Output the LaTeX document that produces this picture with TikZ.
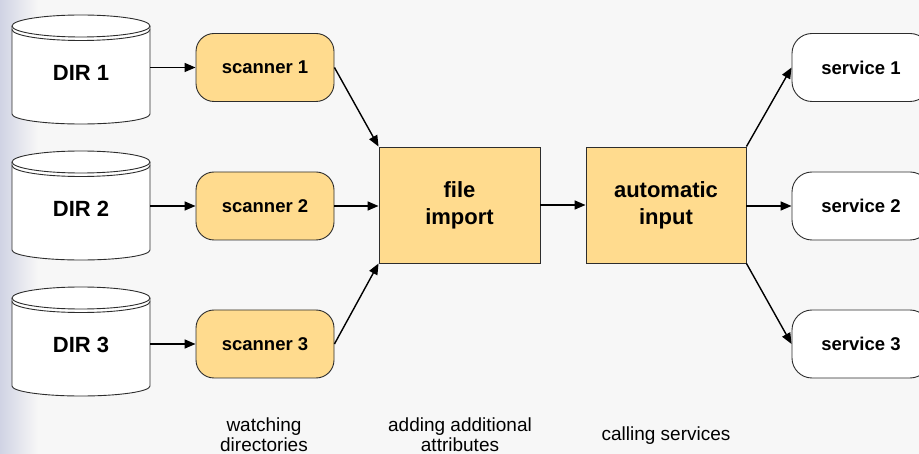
\documentclass[tikz,border=0pt]{standalone}
\usepackage{fontspec}
\setmainfont{Liberation Sans}
\usetikzlibrary{arrows.meta}
\pgfdeclarelayer{backdrop}
\pgfdeclarelayer{shapes}
\pgfsetlayers{backdrop,shapes,main}
\definecolor{pagebg}{RGB}{247,247,247}
\definecolor{strip}{RGB}{208,211,228}
\definecolor{boxfill}{RGB}{255,219,142}
\definecolor{edge}{RGB}{45,45,45}
\tikzset{
  proc/.style={draw=edge, line width=0.9pt, fill=boxfill, align=center, inner sep=0pt,
    minimum height=116pt, font=\bfseries\fontsize{22}{27}\selectfont},
  scan/.style={draw=edge, line width=0.9pt, fill=boxfill, rounded corners=18pt,
    minimum width=138pt, minimum height=68pt, inner sep=0pt,
    font=\bfseries\fontsize{18.5}{22}\selectfont},
  svc/.style={scan, fill=white, rounded corners=20pt},
  dirbox/.style={minimum width=138pt, minimum height=80pt, inner sep=0pt,
    font=\bfseries\fontsize{22}{26}\selectfont},
  flow/.style={line width=1.4pt, -{Triangle[length=11pt,width=9pt]}},
  note/.style={align=center, font=\fontsize{19}{19.5}\selectfont},
  cyl/.style={fill=white, draw=edge, line width=0.9pt},
}
% cylinder outline around a directory node
\newcommand{\dircylinder}[1]{%
  \begin{pgfonlayer}{shapes}
  \begin{scope}[shift={(#1.center)}]
    \filldraw[cyl] (-69,-47) -- (-69,41)
      arc[start angle=180, end angle=360, x radius=69pt, y radius=10pt]
      -- (69,-47)
      arc[start angle=0, end angle=180, x radius=69pt, y radius=11pt] -- cycle;
    \draw[cyl, fill=none] (-69,-47)
      arc[start angle=180, end angle=360, x radius=69pt, y radius=11pt];
    \draw[cyl, fill=none] (-69,-43.5)
      arc[start angle=180, end angle=360, x radius=69pt, y radius=11pt];
  \end{scope}
  \end{pgfonlayer}}
\begin{document}
\begin{tikzpicture}[x=1pt, y=-1pt]
  \clip (0,0) rectangle (919,454);
  \begin{pgfonlayer}{backdrop}
    \fill[pagebg] (0,0) rectangle (919,454);
    \shade[left color=strip, right color=pagebg] (0,0) rectangle (38,454);
  \end{pgfonlayer}

  % directories
  \node[dirbox] (dir1) at (81,73)  {DIR 1};
  \node[dirbox] (dir2) at (81,209) {DIR 2};
  \node[dirbox] (dir3) at (81,345) {DIR 3};
  \dircylinder{dir1}
  \dircylinder{dir2}
  \dircylinder{dir3}

  % scanners
  \node[scan] (sc1) at (265,67.5) {scanner 1};
  \node[scan] (sc2) at (265,206)  {scanner 2};
  \node[scan] (sc3) at (265,344)  {scanner 3};

  % processing stages
  \node[proc, minimum width=161pt] (imp)  at (459.5,205) {file\\import};
  \node[proc, minimum width=160pt] (auto) at (666,205)   {automatic\\input};

  % services
  \node[svc] (sv1) at (861,67.5) {service 1};
  \node[svc] (sv2) at (861,206)  {service 2};
  \node[svc] (sv3) at (861,344)  {service 3};

  % connectors
  \draw[flow] (dir1.east |- sc1.west) -- (sc1.west);
  \draw[flow] (dir2.east |- sc2.west) -- (sc2.west);
  \draw[flow] (dir3.east |- sc3.west) -- (sc3.west);
  \draw[flow] (sc1.east) -- (imp.north west);
  \draw[flow] (sc2.east) -- (imp.west |- sc2.east);
  \draw[flow] (sc3.east) -- (imp.south west);
  \draw[flow] (imp.east) -- (auto.west);
  \draw[flow] (auto.north east) -- (sv1.west);
  \draw[flow] (auto.east |- sv2.west) -- (sv2.west);
  \draw[flow] (auto.south east) -- (sv3.west);

  % captions
  \node[note] (cap1) at (264,434.5) {watching\\directories};
  \node[note] (cap2) at (460,434.5) {adding additional\\attributes};
  \node[note] (cap3) at (666,436)   {calling services};
\end{tikzpicture}
\end{document}
